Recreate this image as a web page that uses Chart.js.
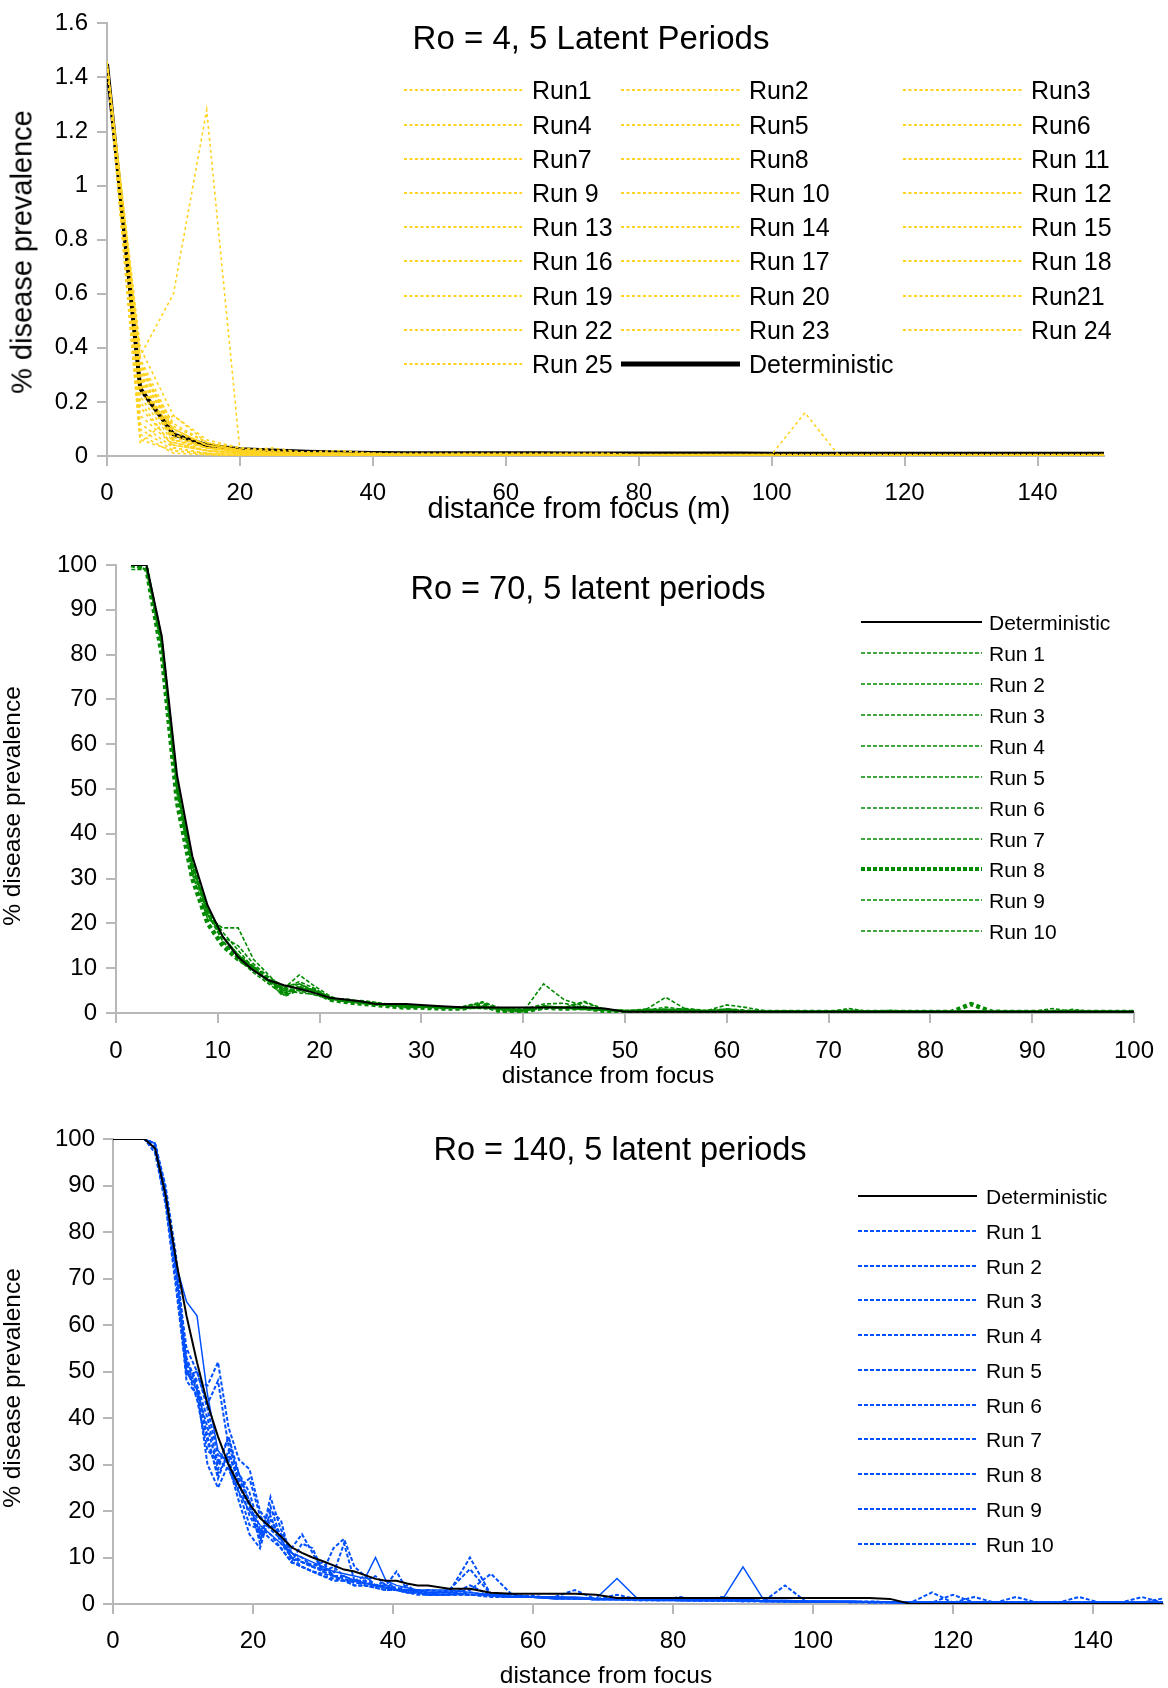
<!DOCTYPE html>
<html>
<head>
<meta charset="utf-8">
<script src="https://cdn.jsdelivr.net/npm/chart.js@4.4.1/dist/chart.umd.min.js"></script>
<style>
body { margin: 0; background: #fff; }
#page { position: relative; width: 1168px; height: 1688px; overflow: hidden; font-family: "Liberation Sans", Arial, sans-serif; color: #000; }
canvas { position: absolute; left: 0; }
.txt { position: absolute; white-space: nowrap; line-height: 1; }
svg { position: absolute; }
</style>
</head>
<body>
<div id="page">
  <canvas id="c1" width="1168" height="530" style="top:0px"></canvas>
  <canvas id="c2" width="1168" height="545" style="top:535px"></canvas>
  <canvas id="c3" width="1168" height="588" style="top:1100px"></canvas>
</div>
<script>
const W = 1168;
const FONT = '"Liberation Sans", Arial, sans-serif';
const YELLOW = '#ffd320';
const GREEN = '#008a00';
const BLUE = '#0050ff';

// ---- panel 1 : Ro = 4 ----
const p1X = [0,5,10,15,20,25,30,35,40,45,50, 55,60,65,70,75,80,85,90,95,100, 105,110,115,120,125,130,135,140,145,150];
const p1Det = [1.45,0.25,0.08,0.04,0.025,0.02,0.016,0.013,0.011,0.01,0.01, 0.01,0.01,0.01,0.009,0.009,0.009,0.009,0.009,0.009,0.008, 0.008,0.008,0.008,0.008,0.008,0.008,0.008,0.008,0.008,0.008];
const p1Names = ['Run1','Run2','Run3','Run4','Run5','Run6','Run7','Run8','Run 11','Run 9','Run 10','Run 12','Run 13',
  'Run 14','Run 15','Run 16','Run 17','Run 18','Run 19','Run 20','Run21','Run 22','Run 23','Run 24','Run 25'];
const p1Runs = [
  [1.45,0.3,0.06,0.03,0.02,0.01,0.01,0.005,0.005,0.005,0.005, 0.005,0,0,0,0,0,0,0,0,0, 0,0,0,0,0,0,0,0,0,0],
  [1.45,0.05,0.15,0.05,0.02,0.01,0.005,0.005,0.005,0,0, 0,0,0,0,0,0,0,0,0,0, 0,0,0,0,0,0,0,0,0,0],
  [1.46,0.37,0.6,1.28,0.02,0.01,0.005,0.005,0,0,0, 0,0,0,0,0,0,0,0,0,0, 0,0,0,0,0,0,0,0,0,0],
  [1.45,0.25,0.1,0.04,0.02,0.03,0.01,0.01,0.005,0.005,0.005, 0.005,0.005,0,0,0,0,0,0,0,0, 0,0,0,0,0,0,0,0,0,0],
  [1.45,0.1,0.02,0.01,0.005,0.005,0,0,0,0,0, 0,0,0,0,0,0,0,0,0,0, 0,0,0,0,0,0,0,0,0,0],
  [1.45,0.32,0.12,0.05,0.03,0.02,0.015,0.02,0.01,0.01,0.01, 0.01,0.01,0.01,0.01,0.01,0.005,0.005,0.005,0.005,0.005, 0.005,0.005,0.005,0.005,0.005,0.005,0.005,0.005,0.005,0.005],
  [1.45,0.28,0.05,0.02,0.01,0.005,0.005,0,0,0,0, 0,0,0,0,0,0,0,0,0,0, 0,0,0,0,0,0,0,0,0,0],
  [1.45,0.35,0.08,0.03,0.015,0.01,0.01,0.005,0.005,0.005,0, 0,0,0,0,0,0,0,0,0,0, 0,0,0,0,0,0,0,0,0,0],
  [1.45,0.2,0.03,0.01,0.005,0,0,0,0,0,0, 0,0,0,0,0,0,0,0,0,0, 0,0,0,0,0,0,0,0,0,0],
  [1.45,0.4,0.15,0.06,0.03,0.02,0.01,0.01,0.005,0.005,0.005, 0.005,0.005,0.005,0,0,0,0,0,0,0, 0,0,0,0,0,0,0,0,0,0],
  [1.45,0.08,0.01,0.005,0,0,0,0,0,0,0, 0,0,0,0,0,0,0,0,0,0, 0,0,0,0,0,0,0,0,0,0],
  [1.45,0.3,0.1,0.04,0.02,0.015,0.01,0.01,0.005,0.005,0.005, 0.005,0.005,0.005,0.005,0.005,0.005,0.005,0.005,0.005,0.005, 0.005,0.005,0.005,0.005,0.005,0.005,0.005,0.005,0.005,0.005],
  [1.45,0.15,0.04,0.02,0.01,0.005,0.005,0,0,0,0, 0,0,0,0,0,0,0,0,0,0, 0,0,0,0,0,0,0,0,0,0],
  [1.45,0.26,0.06,0.03,0.02,0.01,0.005,0.005,0.005,0,0, 0,0,0,0,0,0,0,0,0,0, 0,0,0,0,0,0,0,0,0,0],
  [1.45,0.33,0.09,0.04,0.02,0.01,0.01,0.01,0.005,0.005,0.005, 0.005,0.005,0,0,0,0,0,0,0,0, 0,0,0,0,0,0,0,0,0,0],
  [1.45,0.22,0.05,0.02,0.01,0.005,0.005,0.005,0,0,0, 0,0,0,0,0,0,0,0,0,0, 0,0,0,0,0,0,0,0,0,0],
  [1.45,0.12,0.03,0.01,0.005,0.005,0,0,0,0,0, 0,0,0,0,0,0,0,0,0,0, 0,0,0,0,0,0,0,0,0,0],
  [1.45,0.36,0.11,0.05,0.02,0.02,0.015,0.01,0.01,0.005,0.005, 0.005,0.005,0.005,0.005,0,0,0,0,0,0, 0,0,0,0,0,0,0,0,0,0],
  [1.45,0.29,0.07,0.03,0.015,0.01,0.005,0.005,0.005,0.005,0, 0,0,0,0,0,0,0,0,0,0, 0,0,0,0,0,0,0,0,0,0],
  [1.45,0.18,0.04,0.02,0.01,0.005,0.005,0,0,0,0, 0,0,0,0,0,0,0,0,0,0, 0,0,0,0,0,0,0,0,0,0],
  [1.45,0.31,0.08,0.03,0.02,0.01,0.01,0.005,0.005,0.005,0.005, 0.005,0.005,0.005,0.005,0.005,0.005,0.005,0.005,0.005,0.005, 0.16,0.005,0,0,0,0,0,0,0,0],
  [1.45,0.24,0.06,0.02,0.01,0.005,0.005,0.005,0,0,0, 0,0,0,0,0,0,0,0,0,0, 0,0,0,0,0,0,0,0,0,0],
  [1.45,0.34,0.1,0.04,0.025,0.015,0.01,0.01,0.01,0.005,0.005, 0.005,0.005,0.005,0.005,0.005,0,0,0,0,0, 0,0,0,0,0,0,0,0,0,0],
  [1.45,0.06,0.02,0.005,0,0,0,0,0,0,0, 0,0,0,0,0,0,0,0,0,0, 0,0,0,0,0,0,0,0,0,0],
  [1.45,0.27,0.07,0.03,0.015,0.01,0.005,0.005,0.005,0,0, 0,0,0,0,0,0,0,0,0,0, 0,0,0,0,0,0,0,0,0,0]
];

// ---- panel 2 : Ro = 70 ----
const p2X = [1.5,3,4.5,6,7.5,9,10.5,12,13.5,15, 16.5,18,19.5,21,22.5,24,25.5,27,28.5,30,
  32,34,36,38,40,42,44,46,48,50, 52,54,56,58,60,62,64,66,68,70,
  72,74,76,78,80,82,84,86,88,90, 92,94,96,98,100];
const p2Det = [100,100,84,53,35,24,17,12.5,9.5,7.3, 6.2,5.4,4.5,3.4,3,2.6,2,2,2,1.8,
  1.5,1.3,1.2,1.2,1.2,1.2,1.2,1.2,1,0.3, 0.3,0.3,0.3,0.3,0.3,0.3,0.3,0.3,0.3,0.3,
  0.3,0.3,0.3,0.3,0.3,0.3,0.3,0.3,0.3,0.3, 0.3,0.3,0.3,0.3,0.3];
const p2Runs = [
  [100,99,83,51,33,23,18,14,10,7.5, 5.5,5,4,3.2,2.8,2.4,2,1.8,1.6,1.5, 1.2,1,1.3,0.8,0.9,1.4,1,0.8,0.6,0.5,
   0.4,0.8,0.5,0.5,1.8,1.2,0.4,0.3,0.3,0.3, 0.3,0.4,0.3,0.3,0.3,0.3,0.4,0.3,0.3,0.3, 0.3,0.3,0.3,0.3,0.3],
  [100,100,82,50,32,22,17,15,11,8, 6,6.5,5,3.5,2.7,2.2,2,1.9,1.7,1.4, 1.1,1.4,2.5,0.9,0.5,1,1.2,0.9,0.6,0.4,
   0.6,1.3,0.7,0.4,0.5,0.4,0.3,0.5,0.3,0.3, 0.6,0.3,0.3,0.3,0.3,0.3,0.3,0.3,0.3,0.3, 0.3,0.3,0.3,0.3,0.3],
  [99,99,81,49,31,21,19,19,12,8.5, 5,4.5,4.2,3,3.2,2.6,2.2,1.6,1.5,1.6, 1.3,1.1,1,0.6,0.3,6.5,3,1.5,0.8,0.6,
   0.5,0.6,1,0.6,0.5,0.4,0.3,0.3,0.3,0.3, 0.3,0.3,0.3,0.3,0.3,0.3,0.5,0.3,0.3,0.3, 0.3,0.3,0.3,0.3,0.3],
  [100,100,83,52,34,23,16,12,9,6.5, 4,5,5,3.5,2.5,2.2,1.8,1.6,1.2,1.3, 1,1.2,1.5,1,0.8,2,2.2,1.1,0.9,0.5,
   0.6,0.8,0.6,0.4,0.7,0.4,0.3,0.3,0.3,0.3, 0.3,0.3,0.3,0.3,0.3,0.3,0.3,0.4,0.3,0.3, 1,0.3,0.3,0.3,0.3],
  [100,99,82,50,33,22,17,13,10,7, 5.5,8.5,6,3.8,2.5,2.8,2.4,1.9,1.6,1.6, 1.3,1.2,2.3,0.5,0.6,1.5,1.1,2.4,0.7,0.4,
   0.9,0.6,0.5,0.5,0.6,0.4,0.3,0.3,0.3,0.3, 0.3,0.3,0.3,0.3,0.3,0.3,0.3,0.3,0.3,0.3, 0.3,0.3,0.3,0.3,0.3],
  [100,100,83,51,33,22,16,13,10.5,7.5, 5,5.5,5,3.2,2.6,2.5,2,1.7,1.4,1.5, 1.2,1.2,1.5,0.8,0.6,1.3,1.3,1,0.7,0.4,
   0.7,3.5,0.8,0.4,0.9,0.5,0.3,0.3,0.3,0.3, 0.4,0.3,0.3,0.5,0.3,0.3,0.3,0.3,0.3,0.3, 0.3,0.3,0.3,0.3,0.3],
  [100,100,84,52,34,23,17,13,10,7, 4.5,6,4.5,3,2.8,2.5,2.1,1.8,1.5,1.4, 1.1,1.1,1.3,0.9,0.6,1.6,1.2,2.6,0.8,0.3,
   0.5,0.6,0.6,0.3,0.5,0.4,0.3,0.3,0.3,0.3, 0.3,0.3,0.3,0.3,0.3,0.3,0.3,0.3,0.3,0.3, 0.3,0.3,0.3,0.3,0.3],
  [100,99,80,47,30,20,15,12,10,7.5, 4,5.5,5,3,2.5,2.1,1.8,1.5,1.2,1.2, 1,1,1.8,0.2,0.3,1.2,1,1.1,0.5,0.2,
   0.3,0.5,0.4,0.2,0.6,0.3,0.2,0.2,0.2,0.2, 0.2,0.2,0.2,0.2,0.2,0.2,2,0.3,0.2,0.2, 0.2,0.2,0.2,0.2,0.2],
  [100,100,83,51,33,23,17,13,10,7, 5,6.5,4.8,3.4,2.6,2.3,2,1.7,1.5,1.4, 1.2,1.1,1.3,0.9,0.7,1.3,1.1,1,0.6,0.5,
   0.5,0.7,0.5,0.4,0.5,0.4,0.3,0.4,0.3,0.3, 1,0.3,0.3,0.3,0.3,0.3,0.3,0.3,0.3,0.3, 0.3,0.3,0.3,0.3,0.3],
  [100,100,82,52,34,23,16,12,9.5,7, 5.5,7,5.5,3.5,2.4,2.6,2.2,1.6,1.5,1.3, 1.1,1,1.2,0.8,0.6,1.4,1.2,0.9,0.7,0.5,
   0.6,0.8,0.5,0.4,0.6,0.3,0.3,0.3,0.3,0.3, 0.3,0.3,0.6,0.3,0.3,0.3,0.3,0.3,0.3,0.3, 0.3,0.8,0.3,0.3,0.3]
];

// ---- panel 3 : Ro = 140 ----
const p3X = [0,1.5,3,4.5,6,7.5,9,10.5,12,13.5, 15,16.5,18,19.5,21,22.5,24,25.5,27,28.5,
  30,31.5,33,34.5,36,37.5,39,40.5,42,43.5, 45,48,51,54,57,60,63,66,69,72,
  75,78,81,84,87,90,93,96,99,102, 105,108,111,114,117,120,123,126,129,132, 135,138,141,144,147,150];
const p3Det = [100,100,100,100,98,88,74,62,52,43, 36,30,25.5,21.5,18.5,16.5,14.5,12.2,11,10,
  9.2,8.3,7.4,7,6.2,5.4,5,5,4.4,4, 4,3.3,3.3,2.4,2.2,2.2,2.2,2.2,2,1.3,
  1.3,1.3,1.3,1.3,1.3,1.3,1.3,1.3,1.3,1.3, 1.3,1.3,1.1,0,0,0,0,0,0,0, 0,0,0,0,0,0];
const p3Runs = [
  [100,100,100,100,99,89,73,65,62,45, 33,30,24,20,17,15,13,11,10,9, 8,7,6.5,6,5.5,10,5,4,3.5,3,
   3,3,2.5,2,2,1.5,1.5,1.5,1.2,5.5, 1,1,1,0.8,0.8,8,0.8,0.8,0.6,0.6, 0.6,0.5,0.5,0.3,0.3,0.3,0.3,0.3,0.3,0.3, 0.3,0.3,0.3,0.3,0.3,0.3],
  [100,100,100,100,98,87,70,50,47,40, 30,36,28,22,15,19,13,10,9,8, 7,6,6,5,5,4,4,3.5,3,3,
   2.5,2.5,10,2,1.5,1.5,1.5,1.2,1,1, 1,0.8,1.5,0.8,0.8,1,0.6,0.6,0.5,0.5, 0.5,0.5,0.4,0.3,2.5,0.3,0.3,0.3,0.3,0.3, 0.3,0.3,0.3,0.3,0.3,0.3],
  [100,100,100,100,99,90,75,52,48,47, 52,38,31,29,20,17,15,12,15,11, 7,12,14,8,6,4,3.5,3,2.5,2.5,
   2,3,7.5,2,1.5,1.8,1.2,1.2,1,1, 1,1,0.8,0.8,0.7,0.7,0.6,4,0.5,0.5, 0.5,0.4,0.4,0.3,0.3,2,0.3,0.3,0.3,0.3, 0.3,1.5,0.3,0.3,0.3,0.3],
  [100,100,100,100,98,88,72,48,45,35, 28,32,27,22,13,23,16,11,10,8, 9,6,5,5,4.5,4,4,3,3,2.5,
   2.5,2.5,2,2,1.5,1.5,1.5,3,1,1, 1,0.8,0.8,0.8,1.5,1,0.6,0.6,0.5,0.5, 0.5,0.5,0.4,0.3,0.3,0.3,1.5,0.3,0.3,0.3, 0.3,0.3,0.3,0.3,0.3,0.3],
  [100,100,100,100,99,89,74,50,46,30, 25,30,22,15,12,20,18,9,8,7, 6.5,6,5,4,4,4,3.5,3,2.5,2.5,
   2,2,4,1.8,1.5,1.5,1.2,1.2,1,1, 1,1,0.8,0.8,0.8,0.7,0.6,0.6,0.5,0.5, 0.5,0.4,0.4,0.3,0.3,0.3,0.3,0.3,1.5,0.3, 0.3,0.3,0.3,0.3,0.3,0.3],
  [100,100,100,100,97,86,68,49,50,43, 48,34,28,24,16,14,12,9,13,12, 7,8,6,5,6,4,5,3,4,2.5,
   3,2.5,3,6.5,2,1.5,1.5,1.2,1.2,1, 1,1,1,0.8,0.8,1,0.6,0.6,0.5,0.5, 0.5,0.4,0.4,0.3,0.3,0.3,0.3,0.3,0.3,0.3, 0.3,0.3,0.3,0.3,1.5,0.3],
  [100,100,100,100,98,87,71,52,46,38, 29,36,26,19,15,21,14,10,9,8, 7.5,6.5,13,5,5,6,4,7,3,3,
   2.5,2.5,2,2,2,1.5,1.5,1.2,1,2, 1,1,0.8,0.8,0.8,0.8,0.6,0.6,0.5,0.5, 0.5,0.4,0.4,0.3,0.3,0.3,0.3,0.3,0.3,0.3, 0.3,0.3,0.3,0.3,0.3,0.3],
  [100,100,100,100,99,88,72,55,50,42, 32,31,25,27,19,16,14,10,8,7, 6,5,5,5,4,3.5,3,3,2.5,2,
   2,2,2,1.8,1.5,1.5,1.2,1.2,1,1, 0.8,0.8,0.8,0.7,0.7,0.6,0.6,0.5,0.5,0.5, 0.4,0.4,0.4,0.3,0.3,0.3,0.3,0.3,0.3,0.3, 0.3,0.3,0.3,0.3,0.3,0.3],
  [100,100,100,100,98,87,70,51,44,33, 31,29,24,17,16,15,12,9,8,7, 6,5.5,5,4,4,3.5,3,3,2.5,2.5,
   2,2,2,1.5,1.5,1.5,1.2,1.2,1,1, 0.8,0.8,0.8,0.7,0.7,0.6,0.6,0.5,0.5,0.5, 0.4,0.4,0.4,0.3,0.3,0.3,0.3,0.3,0.3,0.3, 0.3,0.3,0.3,0.3,0.3,0.3],
  [100,100,100,100,99,89,73,53,47,36, 27,33,26,21,14,18,15,11,9,8.5, 8,6,5.5,4.5,4.5,4,3.5,3,3,2.5,
   2,2,2.5,1.8,1.5,1.5,1.2,1.2,1,1, 1,1,0.8,0.8,0.8,0.8,0.7,0.6,0.6,0.5, 0.5,0.5,0.4,0.3,0.3,0.3,0.3,0.3,0.3,0.3, 0.3,0.3,0.3,0.3,0.3,1.2]
];
const runNames = ['Run 1','Run 2','Run 3','Run 4','Run 5','Run 6','Run 7','Run 8','Run 9','Run 10'];

// build a line dataset from an x list and a y list
function series(xs, ys, label, color, width, dash, order) {
  return {
    label: label,
    data: xs.map((x, i) => ({ x: x, y: ys[i] })),
    borderColor: color,
    borderWidth: width,
    borderDash: dash,
    order: order,
    fill: false,
    pointRadius: 0
  };
}

function axis(o, fit) {
  return {
    type: 'linear',
    min: o.min,
    max: o.max,
    afterFit: fit,
    ticks: {
      stepSize: o.step,
      includeBounds: false,
      padding: o.pad,
      color: '#000',
      autoSkip: false,
      maxRotation: 0,
      font: { family: FONT, size: 24 },
      callback: v => String(Math.round(v * 10) / 10)
    },
    grid: { drawOnChartArea: false, drawTicks: true, tickLength: 10, color: '#b8b8b8', lineWidth: 2 },
    border: { display: true, color: '#b8b8b8', width: 2 }
  };
}

// box = chart area in page pixels
function makeChart(id, top, box, xo, yo, datasets) {
  const cv = document.getElementById(id);
  const h = cv.height;
  return new Chart(cv, {
    type: 'line',
    data: { datasets: datasets },
    options: {
      responsive: false,
      animation: false,
      layout: { padding: { left: 0, right: W - box.right, top: box.top - top, bottom: 0 } },
      plugins: { legend: { display: false }, tooltip: { enabled: false } },
      elements: { line: { tension: 0 } },
      scales: {
        x: axis(xo, s => { s.height = top + h - box.bottom; }),
        y: axis(yo, s => { s.width = box.left; })
      }
    }
  });
}

// panel 1
const ds1 = p1Runs.map((r, i) => series(p1X, r, p1Names[i], YELLOW, 1.6, [3, 3], 0));
ds1.push(series(p1X, p1Det, 'Deterministic', '#000', 4, [], 1));
makeChart('c1', 0, { left: 107, right: 1104, top: 16, bottom: 456 },
  { min: 0, max: 150, step: 20, pad: 13 }, { min: 0, max: 1.6, step: 0.2, pad: 9 }, ds1);

// panel 2
const ds2 = [series(p2X, p2Det, 'Deterministic', '#000', 2, [], 0)];
p2Runs.forEach((r, i) => {
  if (i === 7) ds2.push(series(p2X, r, runNames[i], GREEN, 4.5, [4, 3], 1));
  else ds2.push(series(p2X, r, runNames[i], GREEN, 1.6, [4, 2], 1));
});
makeChart('c2', 535, { left: 116, right: 1141, top: 565, bottom: 1013 },
  { min: 0, max: 100, step: 10, pad: 14 }, { min: 0, max: 100, step: 10, pad: 9 }, ds2);

// panel 3
const ds3 = [series(p3X, p3Det, 'Deterministic', '#000', 2, [], 0)];
p3Runs.forEach((r, i) => {
  ds3.push(series(p3X, r, runNames[i], BLUE, i === 0 ? 1.5 : 2, i === 0 ? [] : [4, 2], 1));
});
makeChart('c3', 1100, { left: 113, right: 1163, top: 1139, bottom: 1604 },
  { min: 0, max: 150, step: 20, pad: 13 }, { min: 0, max: 100, step: 10, pad: 8 }, ds3);

// ---- texts and legends (html overlay) ----
const page = document.getElementById('page');

function addText(str, cx, cy, size, rot) {
  const d = document.createElement('div');
  d.className = 'txt';
  d.textContent = str;
  d.style.left = cx + 'px';
  d.style.top = cy + 'px';
  d.style.fontSize = size + 'px';
  d.style.transform = 'translate(-50%,-50%)' + (rot ? ' rotate(-90deg)' : '');
  page.appendChild(d);
}

function addLabel(str, x, cy, size) {
  const d = document.createElement('div');
  d.className = 'txt';
  d.textContent = str;
  d.style.left = x + 'px';
  d.style.top = cy + 'px';
  d.style.fontSize = size + 'px';
  d.style.transform = 'translateY(-50%)';
  page.appendChild(d);
}

function addSwatch(x1, x2, cy, color, width, dash) {
  const ns = 'http://www.w3.org/2000/svg';
  const s = document.createElementNS(ns, 'svg');
  const len = x2 - x1;
  s.setAttribute('width', len);
  s.setAttribute('height', 12);
  s.style.left = x1 + 'px';
  s.style.top = (cy - 6) + 'px';
  const l = document.createElementNS(ns, 'line');
  l.setAttribute('x1', 0); l.setAttribute('y1', 6);
  l.setAttribute('x2', len); l.setAttribute('y2', 6);
  l.setAttribute('stroke', color);
  l.setAttribute('stroke-width', width);
  if (dash) l.setAttribute('stroke-dasharray', dash);
  s.appendChild(l);
  page.appendChild(s);
}

// panel 1 texts
addText('Ro = 4, 5 Latent Periods', 591, 37, 33);
addText('% disease prevalence', 22, 252, 29, true);
addText('distance from focus (m)', 579, 508, 29);
const cols1 = [{ x1: 404, x2: 522, tx: 532 }, { x1: 621, x2: 740, tx: 749 }, { x1: 903, x2: 1022, tx: 1031 }];
const leg1 = p1Names.concat(['Deterministic']);
leg1.forEach((name, i) => {
  const c = cols1[i % 3];
  const cy = 90.4 + Math.floor(i / 3) * 34.2;
  if (name === 'Deterministic') addSwatch(c.x1, c.x2, cy, '#000', 5, null);
  else addSwatch(c.x1, c.x2, cy, YELLOW, 2, '3,2.5');
  addLabel(name, c.tx, cy, 25);
});

// panel 2 texts
addText('Ro = 70, 5 latent periods', 588, 588, 32.5);
addText('% disease prevalence', 12, 806, 24.5, true);
addText('distance from focus', 608, 1075, 24.5);
['Deterministic'].concat(runNames).forEach((name, i) => {
  const cy = 622.2 + i * 30.9;
  if (i === 0) addSwatch(861, 982, cy, '#000', 2, null);
  else if (i === 8) addSwatch(861, 982, cy, GREEN, 4, '4,2');
  else addSwatch(861, 982, cy, GREEN, 1.6, '4,2');
  addLabel(name, 989, cy, 21);
});

// panel 3 texts
addText('Ro = 140, 5 latent periods', 620, 1149, 32.5);
addText('% disease prevalence', 12, 1388, 24.5, true);
addText('distance from focus', 606, 1675, 24.5);
['Deterministic'].concat(runNames).forEach((name, i) => {
  const cy = 1196 + i * 34.77;
  if (i === 0) addSwatch(858, 977, cy, '#000', 2, null);
  else addSwatch(858, 977, cy, BLUE, 2, '4,2');
  addLabel(name, 986, cy, 21);
});
</script>
</body>
</html>
